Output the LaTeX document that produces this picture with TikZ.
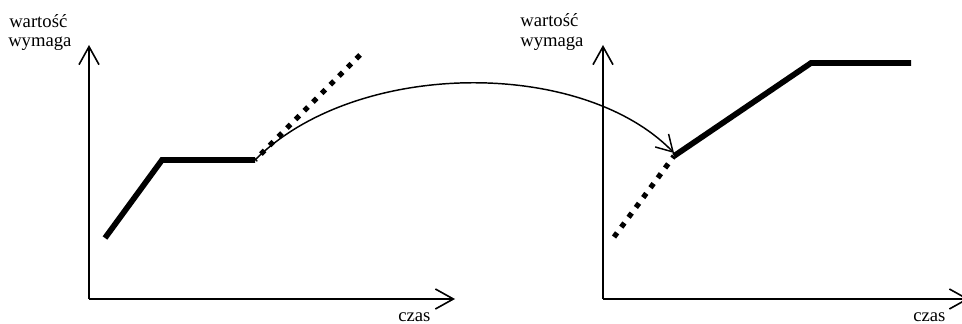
\documentclass[tikz,border=0pt]{standalone}
\usepackage{fontspec}
\setmainfont{Liberation Serif}
\usetikzlibrary{arrows.meta}
\begin{document}
\begin{tikzpicture}[x=0.75pt,y=-0.75pt,
  axis/.style={line width=1.2pt,-{Straight Barb[length=13.5pt,width=15pt]}},
  thickline/.style={line width=4.3pt,line join=miter},
  dotline/.style={line width=3.9pt,dash pattern=on 3.9pt off 5.3pt},
  link/.style={line width=1.1pt,-{Straight Barb[length=12pt,width=14pt]}},
  lbl/.style={inner sep=0pt,anchor=base west,font=\fontsize{14pt}{16pt}\selectfont}]
\useasboundingbox (0,0) rectangle (962,324);
\clip (0,0) rectangle (962,324);
% left panel
\coordinate (O1) at (89,299);
\coordinate (Y1) at (89,45);
\coordinate (X1) at (455,299);
\draw[axis] (O1) -- (Y1);
\draw[axis] (O1) -- (X1);
\node[lbl] (w1) at (9,28) {wartość};
\node[lbl] (m1) at (8,47) {wymaga};
\node[lbl] (c1) at (398,321) {czas};
\coordinate (a1) at (105,238);
\coordinate (a2) at (162,160);
\coordinate (a3) at (255,160);
\coordinate (a4) at (360,55);
\draw[thickline] (a1) -- (a2) -- (a3);
\draw[dotline] (a4) -- (a3);
% right panel
\coordinate (O2) at (603,299);
\coordinate (Y2) at (603,45);
\coordinate (X2) at (969,299);
\draw[axis] (O2) -- (Y2);
\draw[axis] (O2) -- (X2);
\node[lbl] (w2) at (520,27) {wartość};
\node[lbl] (m2) at (520,47) {wymaga};
\node[lbl] (c2) at (913,321) {czas};
\coordinate (b1) at (614,237);
\coordinate (b2) at (674,156);
\coordinate (b3) at (811,63);
\coordinate (b4) at (911,63);
\draw[thickline] (b2) -- (b3) -- (b4);
\draw[dotline] (b1) -- (b2);
% connector
\coordinate (t) at (674,153);
\draw[link] (a3) .. controls (356,59) and (582,58) .. (t);
\end{tikzpicture}
\end{document}
